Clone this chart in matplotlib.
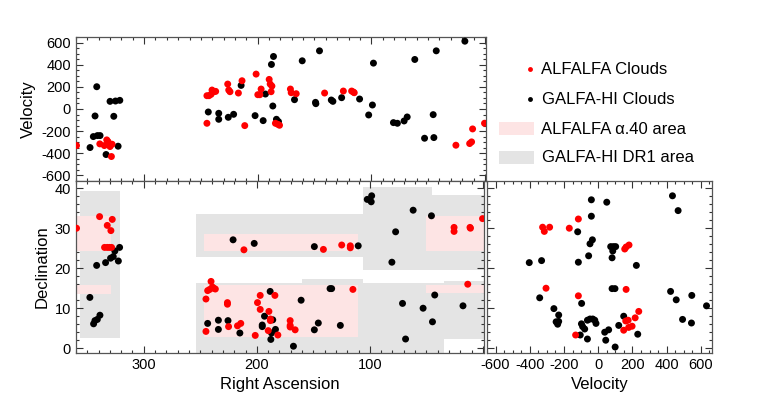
import matplotlib
matplotlib.use('Agg')
import matplotlib.pyplot as plt
from matplotlib.ticker import MultipleLocator, FuncFormatter
from matplotlib.patches import Rectangle
from matplotlib.lines import Line2D

#------------------------------------------------------------------------------
# data
#------------------------------------------------------------------------------
# top panel: right ascension vs velocity
alfalfa_top_ra = [359.5, 339, 335, 332.9, 331.8, 330, 328.2, 328.8,
                  244.7, 242.9, 241.1, 240.2, 238.5, 237, 244.7, 226.4, 225.5, 224.4,
                  217, 213.8, 211.4, 201.4, 199.9, 198.1, 197, 189.9, 189, 187.5, 188.2,
                  184.4, 182.3, 180.8, 171.2, 170.5, 166.1, 141.1, 124.6, 117.3, 115.8,
                  115, 25.5, 13.4, 11.7, 10.8, 0.3]
alfalfa_top_vel = [-330, -315, -330, -279, -294, -339, -318, -429,
                   120, 120, 132, 171, 156, 159, -129, 225, 171, 156,
                   144, 255, -150, 315, 129, 129, 180, 267, 225, 207, 156,
                   -129, -138, -147, 180, 147, 138, 144, 162, 162, 153,
                   147, -327, -312, -297, -180, -129]
galfa_top_ra = [347.6, 341.7, 343.2, 344.7, 341.1, 338.8, 333.5, 330, 325.2, 321.4,
                326.7, 322.9, 243.5, 234.3, 234.3, 225.9, 221.2, 214.6, 202.3, 195.2,
                193.2, 187.9, 186.1, 186.7, 183.5, 181.7, 167.6, 160.8, 149.1, 148.8,
                145.6, 135.2, 133.8, 126.1, 110.3, 102.3, 99, 98.1, 80.5, 77,
                71.1, 68.4, 61.7, 53.1, 44.9, 45.5, 42.8, 17.6]
galfa_top_vel = [-348, 201, -63, -249, -240, -240, -411, 69, 72, 78,
                 -66, -336, -27, -39, -93, -75, -48, 213, -60, -105,
                 135, 402, 474, 27, -93, -114, 84, 435, 60, 48,
                 525, 81, 69, 102, 90, -54, 36, 414, -123, -129,
                 -108, -72, 447, -264, -258, -51, 525, 612]

# bottom left panel: right ascension vs declination
alfalfa_map_ra = [359.5, 339.1, 332.3, 327.9, 329.1, 334.7, 332.3, 330.3, 328.5,
                  245, 245, 243.5, 241.7, 240.5, 239.3, 238.1, 236.7, 226, 226, 225,
                  217.1, 214.2, 211.4, 141.1, 124.9, 117.3, 117.3, 25.5, 25.5, 11.4,
                  11.0, 0.3, 13.4, 197, 184, 199.4, 197, 189.3, 188, 188,
                  201.4, 189.9, 181.4, 170.5, 170.5, 170.5, 166.1, 115]
alfalfa_map_dec = [30.0, 32.9, 30.7, 32.2, 29.4, 25.2, 25.2, 25.2, 25.2,
                   12.3, 4.2, 14.4, 14.7, 16.7, 15.3, 15.0, 14.8, 11.0, 11.4, 5.4,
                   5.6, 6.2, 24.6, 24.7, 25.8, 25.6, 25.1, 30.2, 29.2, 30.2,
                   30.0, 32.4, 16.0, 13.2, 13.2, 11.4, 9.7, 9.2, 7.3, 6.9,
                   3.2, 4.4, 3.3, 6.9, 5.7, 5.3, 4.6, 14.7]
galfa_map_ra = [333.8, 329.4, 327, 325.6, 321.4, 322.5, 341.7, 347.7, 338.8, 341.1,
                343.2, 344.4, 243.5, 234, 234, 225.5, 221, 215, 202.3, 149.1,
                110.3, 102.3, 98.4, 98.8, 61.7, 45.5, 77.2, 80.5, 42.6, 71.1,
                52.9, 17.6, 44.6, 68.4, 188.2, 193.2, 185.9, 195.2, 195.2, 183.5,
                187, 187.6, 167.6, 160.8, 149.1, 145.6, 135.2, 133.8, 126.1]
galfa_map_dec = [21.4, 22.5, 22.9, 24.3, 25.2, 21.8, 20.7, 12.7, 8.25, 7.2,
                 6.9, 6.1, 6.2, 7.0, 4.7, 6.9, 27.1, 3.8, 26.2, 25.4,
                 25.6, 37.2, 38.1, 36.6, 34.5, 33.1, 29.1, 21.5, 13.3, 11.2,
                 10.0, 10.6, 6.6, 2.3, 14.2, 8.0, 7.1, 5.8, 5.4, 4.7,
                 3.8, 2.2, 0.5, 12.0, 4.6, 6.3, 14.9, 14.9, 5.7]

# bottom right panel: velocity vs declination
alfalfa_side_vel = [-116, -325, -315, -284, -169, 155, 163, 180, -305, 163,
                    -116, 161, 175, 216, 237, 149, 178, 198, -132]
alfalfa_side_dec = [32.3, 30.25, 29.2, 30.25, 30.0, 24.8, 25.3, 25.8, 15.0, 14.7,
                    13.1, 6.8, 7.0, 7.6, 9.2, 4.5, 5.2, 5.5, 3.3]
galfa_side_vel = [-40, 50, 434, 467, -40, -120, -34, -48, 73, 89,
                  102, 85, -56, 81, -403, -331, -116, 223, 81, 98,
                  -342, -97, -259, -231, -231, -246, -237, -98, -91, -79,
                  -105, -63, -63, -48, -32, -20, -13, 120, 149, 231,
                  38, 61, 44, 99, 423, 456, 547, 633, 493, 545]
galfa_side_dec = [37.1, 36.5, 38.1, 34.4, 33.0, 29.1, 27.1, 26.1, 25.4, 25.4,
                  25.4, 24.3, 23.1, 22.6, 21.4, 21.9, 21.5, 20.7, 14.9, 14.9,
                  12.6, 11.2, 9.9, 8.3, 6.7, 6.6, 6.0, 6.1, 5.4, 4.8,
                  3.3, 2.3, 7.0, 7.3, 7.3, 7.0, 6.2, 5.7, 8.0, 3.5,
                  4.0, 4.6, 2.0, 0.3, 14.2, 12.1, 13.2, 10.6, 7.2, 6.3]

# survey footprints (ra_lo, ra_hi, dec_lo, dec_hi)
galfa_area = [(321, 356, 2.5, 39.2),
              (106, 253.5, 22.9, 33.6),
              (45, 106, 19.6, 40.3),
              (-2, 45, 19.6, 38.3),
              (34, 254, -2, 16.3),
              (106, 160, 16.3, 17.3),
              (-2, 34, 2.3, 16.7)]
alfalfa_area = [(329, 362, 24.2, 33.0),
                (329, 362, 13.5, 15.75),
                (110.8, 246.4, 24.3, 28.6),
                (110.8, 246.4, 2.9, 15.7),
                (-5, 50.5, 24.4, 33.0),
                (-5, 50.5, 13.75, 15.8)]

#------------------------------------------------------------------------------
# plot
#------------------------------------------------------------------------------
plt.rcParams['font.family'] = ['Liberation Sans', 'DejaVu Sans']
plt.rcParams['axes.unicode_minus'] = False

red = '#ff0000'
pink = '#fde4e4'
grey = '#e4e4e4'

fig = plt.figure(figsize=(7.65, 4.16), dpi=100)
ax_top = fig.add_axes([0.0993, 0.5649, 0.5360, 0.3462])
ax_map = fig.add_axes([0.0993, 0.1514, 0.5334, 0.4135])
ax_side = fig.add_axes([0.6366, 0.1514, 0.2941, 0.4135])

ax_top.scatter(galfa_top_ra, galfa_top_vel, s=25, c='black', edgecolors='none', zorder=3)
ax_top.scatter(alfalfa_top_ra, alfalfa_top_vel, s=25, c=red, edgecolors='none', zorder=3)
ax_top.set_xlim(360, -1)
ax_top.set_ylim(-650, 650)
ax_top.set_ylabel('Velocity', fontsize=12)
ax_top.yaxis.set_major_locator(MultipleLocator(200))
ax_top.yaxis.set_minor_locator(MultipleLocator(50))
ax_top.xaxis.set_major_locator(MultipleLocator(100))
ax_top.xaxis.set_minor_locator(MultipleLocator(10))
ax_top.tick_params(labelbottom=False)

for r in galfa_area:
    ax_map.add_patch(Rectangle((r[0], r[2]), r[1] - r[0], r[3] - r[2], color=grey, lw=0, zorder=1))
for r in alfalfa_area:
    ax_map.add_patch(Rectangle((r[0], r[2]), r[1] - r[0], r[3] - r[2], color=pink, lw=0, zorder=2))
ax_map.scatter(galfa_map_ra, galfa_map_dec, s=25, c='black', edgecolors='none', zorder=3)
ax_map.scatter(alfalfa_map_ra, alfalfa_map_dec, s=25, c=red, edgecolors='none', zorder=3)
ax_map.set_xlim(360, -1)
ax_map.set_ylim(-1.2, 41.8)
ax_map.set_xlabel('Right Ascension', fontsize=12)
ax_map.set_ylabel('Declination', fontsize=12)
ax_map.xaxis.set_major_locator(MultipleLocator(100))
ax_map.xaxis.set_minor_locator(MultipleLocator(10))
ax_map.xaxis.set_major_formatter(FuncFormatter(lambda v, p: '' if v == 0 else '%d' % v))
ax_map.yaxis.set_major_locator(MultipleLocator(10))
ax_map.yaxis.set_minor_locator(MultipleLocator(2))

ax_side.scatter(galfa_side_vel, galfa_side_dec, s=25, c='black', edgecolors='none', zorder=3)
ax_side.scatter(alfalfa_side_vel, alfalfa_side_dec, s=25, c=red, edgecolors='none', zorder=3)
ax_side.set_xlim(-650, 665)
ax_side.set_ylim(-1.2, 41.8)
ax_side.set_xlabel('Velocity', fontsize=12)
ax_side.xaxis.set_major_locator(MultipleLocator(200))
ax_side.xaxis.set_minor_locator(MultipleLocator(50))
ax_side.yaxis.set_major_locator(MultipleLocator(10))
ax_side.yaxis.set_minor_locator(MultipleLocator(2))
ax_side.tick_params(labelleft=False)

for ax in [ax_top, ax_map, ax_side]:
    ax.tick_params(which='both', direction='in', top=True, right=True, width=0.8,
                   labelsize=10.5, colors='#333333', labelcolor='black')
    ax.tick_params(which='major', length=5)
    ax.tick_params(which='minor', length=2.5)
    for s in ax.spines.values():
        s.set_color('#555555')
        s.set_linewidth(0.9)

# legend, drawn in figure pixels
W, H = 765.0, 416.0
fig.add_artist(Line2D([530 / W], [1 - 69 / H], transform=fig.transFigure,
                      marker='o', ms=3.5, color=red, mec='none'))
fig.add_artist(Line2D([530 / W], [1 - 99 / H], transform=fig.transFigure,
                      marker='o', ms=3.5, color='black', mec='none'))
fig.add_artist(Rectangle((499 / W, 1 - 135 / H), 35 / W, 13 / H,
                         transform=fig.transFigure, color=pink, lw=0))
fig.add_artist(Rectangle((499 / W, 1 - 164 / H), 35 / W, 13 / H,
                         transform=fig.transFigure, color=grey, lw=0))
fig.text(541 / W, 1 - 69 / H, 'ALFALFA Clouds', va='center', fontsize=12)
fig.text(542 / W, 1 - 99 / H, 'GALFA-HI Clouds', va='center', fontsize=12)
fig.text(541 / W, 1 - 129 / H, 'ALFALFA α.40 area', va='center', fontsize=12)
fig.text(542 / W, 1 - 158 / H, 'GALFA-HI DR1 area', va='center', fontsize=12)

plt.savefig('out.png', dpi=100)
